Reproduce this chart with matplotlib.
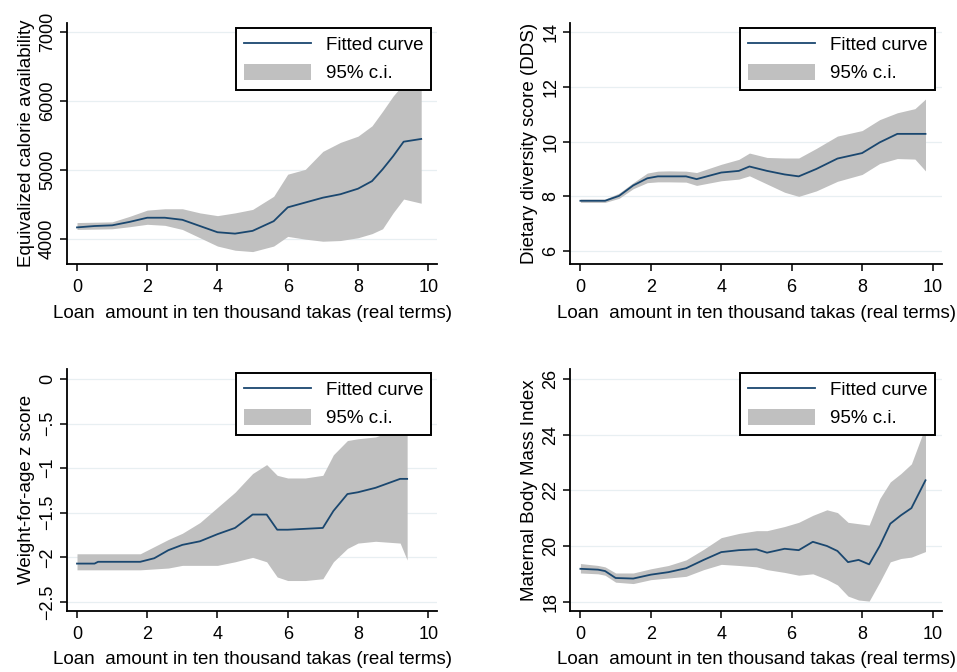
import numpy as np
import matplotlib
matplotlib.use("Agg")
import matplotlib.pyplot as plt
from matplotlib.patches import Patch
from matplotlib.lines import Line2D

plt.rcParams['font.family'] = ['Liberation Sans', 'DejaVu Sans']

# Panel 1: calorie availability
x1 = [0, 0.5, 1, 1.5, 2, 2.5, 3, 3.5, 4, 4.5, 5, 5.6, 6, 6.5, 7, 7.5, 8, 8.4, 8.7, 9, 9.3, 9.8]
fit1 = [4170, 4190, 4200, 4250, 4310, 4310, 4280, 4190, 4100, 4080, 4120, 4260, 4460, 4530, 4600, 4650,
        4730, 4840, 5010, 5200, 5410, 5450]
hi1 = [4240, 4245, 4250, 4330, 4420, 4440, 4440, 4380, 4340, 4380, 4430, 4620, 4940, 5010, 5270, 5400,
       5490, 5640, 5850, 6070, 6250, 6500]
lo1 = [4140, 4145, 4150, 4180, 4215, 4200, 4140, 4020, 3900, 3840, 3820, 3900, 4040, 4000, 3970, 3980,
       4020, 4080, 4150, 4380, 4580, 4520]

# Panel 2: dietary diversity score
x2 = [0, 0.7, 1.1, 1.5, 1.9, 2.2, 2.5, 3, 3.3, 4, 4.5, 4.8, 5.3, 5.8, 6.2, 6.7, 7.3, 8, 8.5, 9, 9.5, 9.8]
fit2 = [7.84, 7.84, 8.02, 8.4, 8.66, 8.73, 8.73, 8.73, 8.63, 8.87, 8.93, 9.09, 8.93, 8.8, 8.73, 9.0,
        9.38, 9.58, 9.97, 10.28, 10.28, 10.28]
hi2 = [7.9, 7.9, 8.12, 8.5, 8.85, 8.92, 8.93, 8.92, 8.87, 9.17, 9.35, 9.58, 9.42, 9.4, 9.4, 9.75,
       10.2, 10.4, 10.8, 11.05, 11.2, 11.55]
lo2 = [7.78, 7.78, 7.93, 8.28, 8.5, 8.53, 8.53, 8.52, 8.4, 8.57, 8.63, 8.75, 8.45, 8.15, 8.0, 8.2,
       8.55, 8.8, 9.2, 9.38, 9.36, 8.93]

# Panel 3: weight-for-age z score
x3 = [0, 0.5, 0.6, 1.8, 2.2, 2.6, 3, 3.5, 4, 4.5, 5, 5.4, 5.7, 6, 6.5, 7, 7.3, 7.7, 8, 8.5, 9.2, 9.4]
fit3 = [-2.07, -2.07, -2.05, -2.05, -2.01, -1.92, -1.86, -1.82, -1.74, -1.67, -1.52, -1.52, -1.69, -1.69,
        -1.68, -1.67, -1.48, -1.29, -1.27, -1.22, -1.12, -1.12]
hi3 = [-1.96, -1.96, -1.96, -1.96, -1.88, -1.80, -1.73, -1.61, -1.44, -1.27, -1.06, -0.96, -1.08, -1.11,
       -1.11, -1.08, -0.85, -0.69, -0.67, -0.65, -0.55, -0.5]
lo3 = [-2.14, -2.14, -2.14, -2.14, -2.13, -2.12, -2.09, -2.09, -2.09, -2.05, -2.0, -2.05, -2.22, -2.26,
       -2.26, -2.24, -2.05, -1.90, -1.84, -1.82, -1.84, -2.03]

# Panel 4: maternal BMI
x4 = [0, 0.5, 0.7, 1, 1.5, 2, 2.5, 3, 3.5, 4, 4.5, 5, 5.3, 5.8, 6.2, 6.6, 7, 7.3, 7.6, 7.9, 8.2, 8.5,
      8.8, 9.1, 9.4, 9.8]
fit4 = [19.18, 19.15, 19.1, 18.85, 18.83, 18.97, 19.06, 19.2, 19.5, 19.78, 19.85, 19.88, 19.76, 19.9,
        19.85, 20.15, 20.0, 19.82, 19.42, 19.5, 19.34, 20.0, 20.8, 21.1, 21.36, 22.36]
hi4 = [19.37, 19.3, 19.25, 19.03, 19.03, 19.18, 19.3, 19.5, 19.88, 20.3, 20.45, 20.55, 20.55, 20.7,
       20.85, 21.1, 21.3, 21.2, 20.85, 20.8, 20.75, 21.7, 22.3, 22.6, 22.95, 24.3]
lo4 = [19.03, 19.0, 18.95, 18.7, 18.65, 18.79, 18.85, 18.91, 19.15, 19.34, 19.3, 19.25, 19.15, 19.05,
       18.95, 19.0, 18.8, 18.6, 18.2, 18.06, 18.02, 18.7, 19.43, 19.55, 19.6, 19.8]

ylabels = ["Equivalized calorie availability", "Dietary diversity score (DDS)",
           "Weight-for-age z score", "Maternal Body Mass Index"]
xlabel = "Loan  amount in ten thousand takas (real terms)"
yticks = [[4000, 5000, 6000, 7000], [6, 8, 10, 12, 14],
          [-2.5, -2, -1.5, -1, -0.5, 0], [18, 20, 22, 24, 26]]
yticklabels = [["4000", "5000", "6000", "7000"], ["6", "8", "10", "12", "14"],
               ["\u22122.5", "\u22122", "\u22121.5", "\u22121", "\u2212.5", "0"],
               ["18", "20", "22", "24", "26"]]
ylims = [(3639, 7130), (5.53, 14.33), (-2.60, 0.113), (17.67, 26.36)]

data = [(x1, fit1, lo1, hi1), (x2, fit2, lo2, hi2), (x3, fit3, lo3, hi3), (x4, fit4, lo4, hi4)]

# axes rectangles [left, bottom, width, height] in figure fractions
rects = [[0.070, 0.607, 0.387, 0.359], [0.596, 0.607, 0.388, 0.359],
         [0.070, 0.091, 0.387, 0.360], [0.596, 0.091, 0.388, 0.360]]
leg_anchor = [(0.984, 0.979), (0.983, 0.979), (0.984, 0.983), (0.983, 0.983)]

line_col = "#1a476f"
ci_col = "#c0c0c0"

fig = plt.figure(figsize=(9.57, 6.72), dpi=100)

for i in range(4):
    ax = fig.add_axes(rects[i])
    x, fit, lo, hi = data[i]
    ax.fill_between(x, lo, hi, color=ci_col, linewidth=0, zorder=2)
    ax.plot(x, fit, color=line_col, linewidth=1.3, zorder=3)

    ax.set_xlim(-0.285, 10.26)
    ax.set_ylim(*ylims[i])
    ax.set_xticks([0, 2, 4, 6, 8, 10])
    ax.set_yticks(yticks[i])
    ax.set_yticklabels(yticklabels[i], rotation=90, va="center")
    ax.tick_params(labelsize=13, length=5, width=1.1, direction="out")
    ax.tick_params(axis="x", pad=6)
    ax.tick_params(axis="y", pad=3)
    ax.grid(axis="y", color="#e8eff2", linewidth=0.9, zorder=0)
    ax.set_axisbelow(True)
    for s in ["top", "right"]:
        ax.spines[s].set_visible(False)
    for s in ["left", "bottom"]:
        ax.spines[s].set_linewidth(1.3)

    ax.set_xlabel(xlabel, fontsize=13.5, labelpad=6)
    ax.set_ylabel(ylabels[i], fontsize=13.5, labelpad=3)

    handles = [Line2D([0], [0], color=line_col, linewidth=1.3),
               Patch(facecolor=ci_col, edgecolor="none")]
    leg = ax.legend(handles, ["Fitted curve", "95% c.i."], loc="upper right",
                    bbox_to_anchor=leg_anchor[i], fontsize=13.5, frameon=True,
                    framealpha=1.0, fancybox=False, handlelength=3.6, handleheight=0.9,
                    handletextpad=0.8, borderpad=0.4, labelspacing=0.55,
                    borderaxespad=0.0)
    leg.get_frame().set_edgecolor("black")
    leg.get_frame().set_linewidth(1.4)
    leg.set_zorder(6)

plt.savefig("out.png", dpi=100)
